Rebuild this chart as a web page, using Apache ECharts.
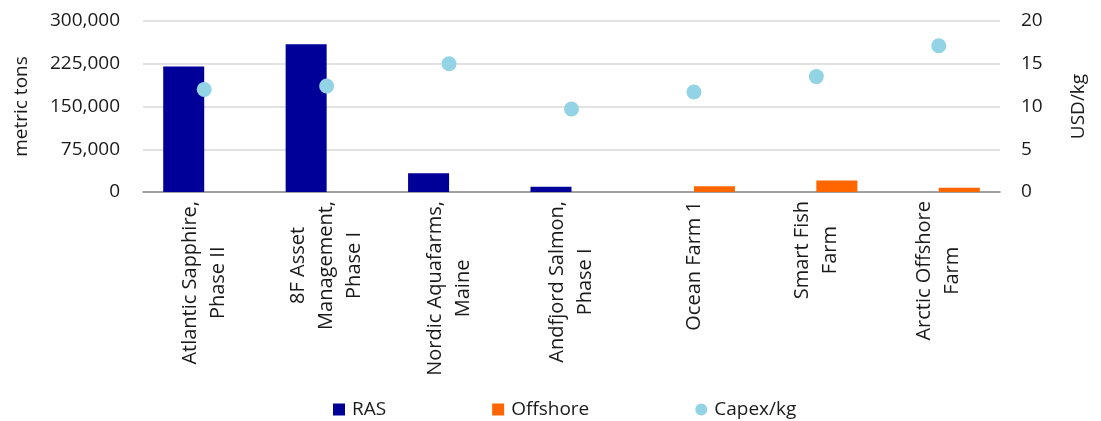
<!DOCTYPE html>
<html>
<head>
<meta charset="utf-8">
<script src="https://cdn.jsdelivr.net/npm/echarts@6/dist/echarts.min.js"></script>
<style>html,body{margin:0;padding:0;background:#fff}#c{width:1101px;height:421px}</style>
</head>
<body>
<div id="c"></div>
<script>
const categories = [
  'Atlantic Sapphire,\nPhase II',
  '8F Asset\nManagement,\nPhase I',
  'Nordic Aquafarms,\nMaine',
  'Andfjord Salmon,\nPhase I',
  'Ocean Farm 1',
  'Smart Fish\nFarm',
  'Arctic Offshore\nFarm'
];
const rasValues = [220000, 259000, 33000, 9000, '-', '-', '-'];
const offshoreValues = ['-', '-', '-', '-', 10000, 20000, 7500];
const capexValues = [12.0, 12.4, 15.0, 9.7, 11.7, 13.5, 17.1];
const leftTicks = { min: 0, max: 300000, interval: 75000 };
const rightTicks = { min: 0, max: 20, interval: 5 };

const FONT = '"Open Sans", "Noto Sans", sans-serif';
const TXT = '#1a1a1a';
const chart = echarts.init(document.getElementById('c'), null, { renderer: 'canvas' });
chart.setOption({
  animation: false,
  textStyle: { fontFamily: FONT },
  grid: { left: 143, right: 101, top: 21, bottom: 229, containLabel: false },
  legend: {
    left: 333, top: 400, padding: 0,
    itemGap: 106, itemWidth: 12, itemHeight: 12,
    textStyle: { fontFamily: FONT, fontSize: 19, color: TXT, padding: [0, 0, 0, 2] },
    data: [
      { name: 'RAS', icon: 'rect' },
      { name: 'Offshore', icon: 'rect' },
      { name: 'Capex/kg', icon: 'circle' }
    ]
  },
  xAxis: {
    type: 'category',
    data: categories,
    axisTick: { show: false },
    axisLine: { lineStyle: { color: '#8c8c8c', width: 1.5 } },
    axisLabel: {
      interval: 0, rotate: 90, margin: 9,
      fontFamily: FONT, fontSize: 20, color: TXT,
      formatter: v => v.split('\n').map(l => '{c|' + l + '}').join('\n'),
      rich: { c: { align: 'center', fontFamily: FONT, fontSize: 20, color: TXT, lineHeight: 28 } }
    }
  },
  yAxis: [
    {
      type: 'value', min: leftTicks.min, max: leftTicks.max, interval: leftTicks.interval,
      name: 'metric tons', nameLocation: 'middle', nameGap: 112, nameRotate: 90,
      nameTextStyle: { fontFamily: FONT, fontSize: 19, color: TXT },
      axisLine: { show: false }, axisTick: { show: false },
      splitLine: { lineStyle: { color: '#d9d9d9', width: 1.5 } },
      axisLabel: { margin: 23, fontFamily: FONT, fontSize: 19, color: TXT,
        formatter: v => v.toLocaleString('en-US') }
    },
    {
      type: 'value', min: rightTicks.min, max: rightTicks.max, interval: rightTicks.interval,
      name: 'USD/kg', nameLocation: 'middle', nameGap: 69, nameRotate: 90,
      nameTextStyle: { fontFamily: FONT, fontSize: 19, color: TXT },
      axisLine: { show: false }, axisTick: { show: false },
      splitLine: { show: false },
      axisLabel: { margin: 21, fontFamily: FONT, fontSize: 19, color: TXT }
    }
  ],
  series: [
    { name: 'RAS', type: 'bar', data: rasValues, barWidth: 41, barGap: '0%',
      itemStyle: { color: '#000099' } },
    { name: 'Offshore', type: 'bar', data: offshoreValues, barWidth: 41, barGap: '0%',
      itemStyle: { color: '#FF6600' } },
    { name: 'Capex/kg', type: 'scatter', yAxisIndex: 1, data: capexValues,
      symbol: 'circle', symbolSize: 15, itemStyle: { color: '#92D3E5', opacity: 1 } }
  ]
});
</script>
</body>
</html>
